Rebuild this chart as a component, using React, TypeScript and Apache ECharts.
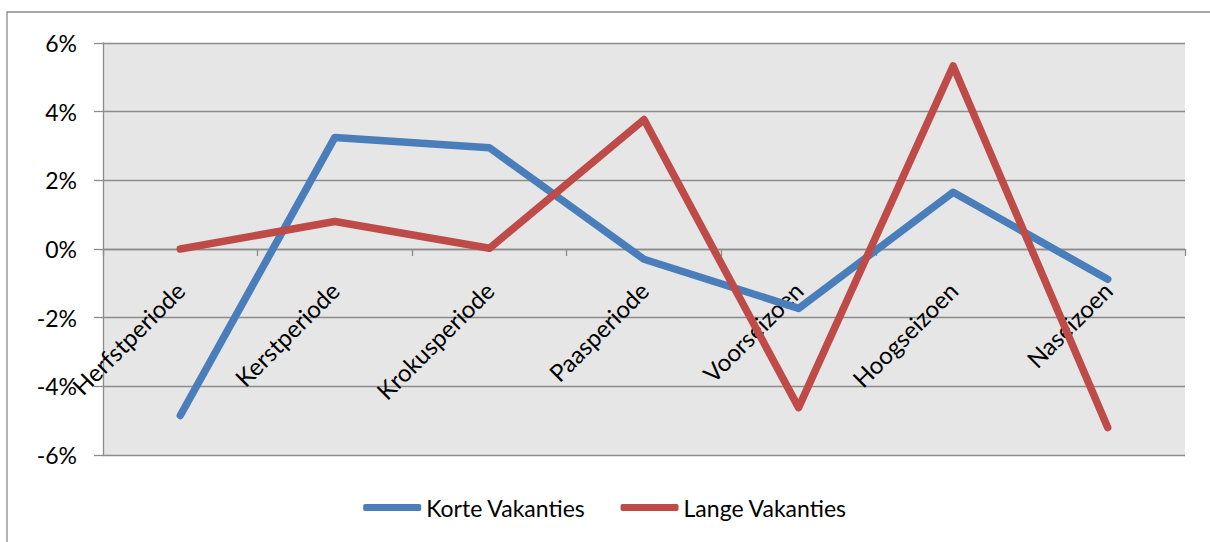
import React, { useEffect, useRef } from "react";
import * as echarts from "echarts";

const categories = [
  "Herfstperiode",
  "Kerstperiode",
  "Krokusperiode",
  "Paasperiode",
  "Voorseizoen",
  "Hoogseizoen",
  "Naseizoen",
];
const korteVakanties = [-4.85, 3.25, 2.95, -0.3, -1.73, 1.65, -0.88];
const langeVakanties = [0, 0.8, 0.02, 3.77, -4.62, 5.33, -5.2];
const yTicks = { min: -6, max: 6, interval: 2 };

const GRID_COLOR = "#8C8C8C";
const FONT = "Lato";
const FS = 23;

export default function App() {
  const ref = useRef<HTMLDivElement>(null);
  useEffect(() => {
    document.body.style.margin = "0";
    const chart = echarts.init(ref.current!, null, { renderer: "svg" });
    chart.setOption({
      animation: false,
      backgroundColor: "#FFFFFF",
      textStyle: { fontFamily: FONT },
      graphic: [
        {
          type: "rect",
          shape: { x: 7, y: 12, width: 1300, height: 700 },
          style: { fill: "none", stroke: "#8A8A8A", lineWidth: 1.3 },
          silent: true,
          z: -10,
        },
      ],
      grid: {
        left: 103,
        right: 25,
        top: 43,
        bottom: 87,
        show: true,
        backgroundColor: "#E6E6E6",
        borderWidth: 0,
        containLabel: false,
        outerBoundsMode: "none",
      },
      legend: {
        bottom: 18,
        left: "center",
        icon: "roundRect",
        itemWidth: 58,
        itemHeight: 7,
        itemGap: 35,
        textStyle: { fontSize: FS, color: "#000", fontFamily: FONT },
        data: ["Korte Vakanties", "Lange Vakanties"],
      },
      xAxis: [
        {
          type: "category",
          data: categories,
          boundaryGap: true,
          axisLine: { onZero: true, lineStyle: { color: GRID_COLOR, width: 1.3 } },
          axisTick: { show: true, length: 7, inside: false, lineStyle: { color: GRID_COLOR, width: 1.3 } },
          axisLabel: { show: false },
          splitLine: { show: false },
        },
        {
          type: "category",
          data: categories,
          boundaryGap: true,
          position: "bottom",
          offset: -206,
          axisLine: { show: false, onZero: false },
          axisTick: { show: false },
          axisLabel: {
            rotate: 45,
            margin: 37,
            fontSize: 24,
            color: "#000",
            fontFamily: FONT,
            interval: 0,
          },
          splitLine: { show: false },
          z: 1,
        },
      ],
      yAxis: {
        type: "value",
        min: yTicks.min,
        max: yTicks.max,
        interval: yTicks.interval,
        axisLine: { show: true, lineStyle: { color: GRID_COLOR, width: 1.3 } },
        axisTick: { show: true, length: 9, lineStyle: { color: GRID_COLOR, width: 1.3 } },
        axisLabel: {
          formatter: "{value}%",
          fontSize: FS,
          color: "#000",
          fontFamily: FONT,
          margin: 26,
        },
        splitLine: { show: true, lineStyle: { color: GRID_COLOR, width: 1.3 } },
      },
      series: [
        {
          name: "Korte Vakanties",
          type: "line",
          data: korteVakanties,
          symbol: "none",
          color: "#4A7EBB",
          lineStyle: { width: 7.5, color: "#4A7EBB", cap: "round", join: "round" },
          z: 3,
        },
        {
          name: "Lange Vakanties",
          type: "line",
          data: langeVakanties,
          symbol: "none",
          color: "#BE4B48",
          lineStyle: { width: 7.5, color: "#BE4B48", cap: "round", join: "round" },
          z: 4,
        },
      ],
    });
    return () => chart.dispose();
  }, []);
  return (
    <div
      ref={ref}
      style={{ position: "absolute", left: 0, top: 0, width: 1210, height: 542 }}
    />
  );
}
